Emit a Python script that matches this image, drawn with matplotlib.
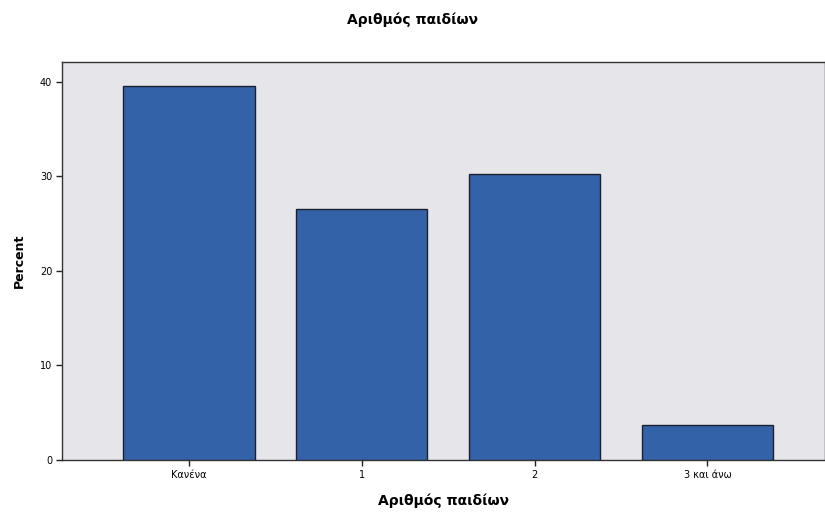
import matplotlib
matplotlib.use("Agg")
import matplotlib.pyplot as plt

categories = ["Κανένα", "1", "2", "3 και άνω"]
percent = [39.6, 26.5, 30.2, 3.7]
yticks = [0, 10, 20, 30, 40]

plt.rcParams['font.family'] = ['DejaVu Sans']

fig = plt.figure(figsize=(8.25, 5.13), dpi=100)
fig.patch.set_facecolor("white")
ax = fig.add_axes([62/825, 1-460/513, 1-62/825, (460-62)/513])
ax.set_facecolor("#e6e6ea")

x = list(range(len(categories)))
ax.bar(x, percent, width=0.76, color="#3462a8", edgecolor="#1a2030", linewidth=1.0, zorder=3)

ax.set_xlim(-0.734, 3.68)
ax.set_ylim(0, 42.1)
ax.set_xticks(x)
ax.set_xticklabels(categories, fontsize=7)
ax.set_yticks(yticks)
ax.set_yticklabels([str(v) for v in yticks], fontsize=7)
ax.tick_params(axis='both', length=4, width=1.0, color="#222222", pad=3)

for s in ax.spines.values():
    s.set_color("#333333")
    s.set_linewidth(1.0)

ax.set_ylabel("Percent", fontsize=9, fontweight="bold", labelpad=10)
ax.set_xlabel("Αριθμός παιδίων", fontsize=10, fontweight="bold", labelpad=10)
fig.text(0.5, 1-20/513, "Αριθμός παιδίων", ha="center", va="center", fontsize=10, fontweight="bold")

fig.savefig("out.png", dpi=100)
